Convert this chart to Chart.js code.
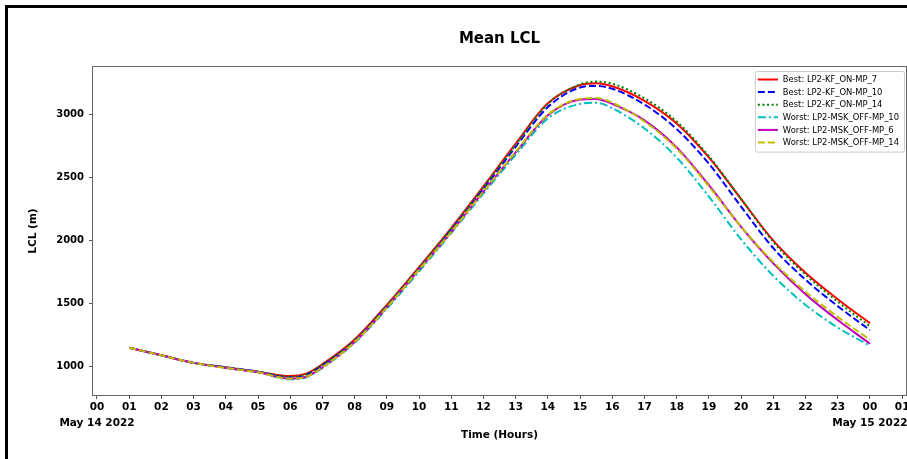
<!DOCTYPE html>
<html>
<head>
<meta charset="utf-8">
<title>Mean LCL</title>
<script src="https://cdn.jsdelivr.net/npm/chart.js@4.4.1/dist/chart.umd.min.js"></script>
<style>
	html, body { margin: 0; padding: 0; background: #fff; }
	canvas { display: block; }
</style>
</head>
<body>
<canvas id="chart-mean-lcl" width="907" height="459"></canvas>
<script>
// Hours since 00 on May 14 2022
const HOURS = [1, 2, 3, 4, 5, 6, 6.5, 7, 8, 9, 10, 11, 12, 13, 14, 15, 15.5, 16, 17, 18, 19, 20, 21, 22, 23, 24];

const SERIES_LABELS = [
	"Best: LP2-KF_ON-MP_7",
	"Best: LP2-KF_ON-MP_10",
	"Best: LP2-KF_ON-MP_14",
	"Worst: LP2-MSK_OFF-MP_10",
	"Worst: LP2-MSK_OFF-MP_6",
	"Worst: LP2-MSK_OFF-MP_14",
];

const BEST_KF_ON_MP_7 = [1150, 1090, 1030, 995, 960, 925, 945, 1020, 1215, 1490, 1790, 2100, 2430, 2770, 3090, 3235, 3250, 3225, 3110, 2930, 2660, 2330, 2000, 1745, 1535, 1345];
const BEST_KF_ON_MP_10 = [1150, 1090, 1030, 995, 960, 915, 935, 1010, 1205, 1480, 1775, 2085, 2410, 2745, 3060, 3215, 3228, 3205, 3080, 2885, 2610, 2270, 1940, 1690, 1480, 1290];
const BEST_KF_ON_MP_14 = [1150, 1090, 1030, 995, 960, 920, 940, 1015, 1210, 1485, 1785, 2095, 2425, 2760, 3085, 3240, 3262, 3245, 3130, 2945, 2670, 2330, 1990, 1730, 1515, 1320];
const WORST_MSK_OFF_MP_10 = [1150, 1090, 1030, 990, 955, 900, 915, 990, 1190, 1460, 1755, 2060, 2375, 2680, 2970, 3085, 3095, 3050, 2890, 2660, 2350, 2010, 1720, 1490, 1310, 1166];
const WORST_MSK_OFF_MP_6 = [1150, 1090, 1030, 990, 955, 905, 920, 995, 1195, 1470, 1770, 2070, 2390, 2700, 2995, 3120, 3125, 3085, 2955, 2740, 2440, 2110, 1820, 1575, 1370, 1182];
const WORST_MSK_OFF_MP_14 = [1150, 1090, 1030, 990, 955, 905, 920, 995, 1195, 1470, 1770, 2070, 2390, 2705, 3000, 3125, 3132, 3095, 2945, 2730, 2430, 2110, 1830, 1595, 1395, 1213];

const X_TICK_LABELS = ["00", "01", "02", "03", "04", "05", "06", "07", "08", "09", "10", "11", "12",
	"13", "14", "15", "16", "17", "18", "19", "20", "21", "22", "23", "00", "01"];
const DATE_LABELS = { 0: "May 14 2022", 24: "May 15 2022" };
const Y_TICKS = [1000, 1500, 2000, 2500, 3000];

const FONT = "'DejaVu Sans', sans-serif";

const toPoints = (values) => values.map((v, i) => ({ x: HOURS[i], y: v }));

const lineStyle = (color, dash, order) => ({
	borderColor: color,
	backgroundColor: color,
	borderWidth: 2,
	borderDash: dash,
	pointRadius: 0,
	fill: false,
	cubicInterpolationMode: "monotone",
	order: order,
});

const CHART_DATA = {
	datasets: [
		{ label: SERIES_LABELS[0], data: toPoints(BEST_KF_ON_MP_7), ...lineStyle("#ff0000", [], 5) },
		{ label: SERIES_LABELS[1], data: toPoints(BEST_KF_ON_MP_10), ...lineStyle("#0000ff", [7, 3], 4) },
		{ label: SERIES_LABELS[2], data: toPoints(BEST_KF_ON_MP_14), ...lineStyle("#008000", [2, 2.6], 3) },
		{ label: SERIES_LABELS[3], data: toPoints(WORST_MSK_OFF_MP_10), ...lineStyle("#00bfbf", [8, 3, 2, 3], 2) },
		{ label: SERIES_LABELS[4], data: toPoints(WORST_MSK_OFF_MP_6), ...lineStyle("#bf00bf", [], 1) },
		{ label: SERIES_LABELS[5], data: toPoints(WORST_MSK_OFF_MP_14), ...lineStyle("#bfbf00", [7, 3], 0) },
	],
};

// figure frame, axes spines and a matplotlib-like legend box
const framePlugin = {
	id: "frame",
	beforeDraw(chart) {
		const { ctx, width, height } = chart;
		ctx.save();
		ctx.fillStyle = "#fff";
		ctx.fillRect(0, 0, width, height);
		ctx.strokeStyle = "#000";
		ctx.lineWidth = 3;
		ctx.beginPath();
		ctx.moveTo(6.5, height);
		ctx.lineTo(6.5, 6.5);
		ctx.lineTo(width, 6.5);
		ctx.stroke();
		ctx.restore();
	},
	afterDatasetsDraw(chart) {
		const { ctx, chartArea: a } = chart;
		ctx.save();
		ctx.strokeStyle = "#666";
		ctx.lineWidth = 1;
		ctx.strokeRect(a.left - 0.5, a.top - 0.5, a.right - a.left + 1, a.bottom - a.top + 1);

		// legend
		const datasets = chart.data.datasets;
		ctx.font = "8.4px " + FONT;
		const textW = Math.max(...datasets.map((d) => ctx.measureText(d.label).width));
		const rowH = 12.6;
		const w = 28 + textW + 5;
		const h = datasets.length * rowH + 5;
		const left = a.right - 2 - w;
		const top = a.top + 4;
		ctx.fillStyle = "rgba(255,255,255,0.85)";
		ctx.strokeStyle = "#cccccc";
		ctx.beginPath();
		ctx.roundRect(left + 0.5, top + 0.5, w, h, 2);
		ctx.fill();
		ctx.stroke();
		ctx.textBaseline = "middle";
		ctx.textAlign = "left";
		datasets.forEach((d, i) => {
			const y = top + 8.5 + i * rowH;
			ctx.strokeStyle = d.borderColor;
			ctx.lineWidth = 2;
			ctx.setLineDash(d.borderDash);
			ctx.beginPath();
			ctx.moveTo(left + 3, y);
			ctx.lineTo(left + 23, y);
			ctx.stroke();
			ctx.setLineDash([]);
			ctx.fillStyle = "#000";
			ctx.fillText(d.label, left + 28, y + 0.5);
		});
		ctx.restore();
	},
};

const CHART_CONFIG = {
	type: "line",
	data: CHART_DATA,
	options: {
		responsive: false,
		animation: false,
		devicePixelRatio: 1,
		layout: {
			padding: { left: 0, right: 1, top: 0, bottom: 0 },
		},
		plugins: {
			legend: { display: false },
			tooltip: { enabled: false },
			title: {
				display: true,
				text: "Mean LCL",
				fullSize: false,
				color: "#000",
				font: { family: FONT, size: 15, weight: "bold" },
				padding: { top: 30, bottom: 19 },
			},
		},
		scales: {
			x: {
				type: "linear",
				min: -0.124,
				max: 25.12,
				afterBuildTicks: (scale) => {
					scale.ticks = X_TICK_LABELS.map((_, i) => ({ value: i }));
				},
				afterFit: (scale) => {
					scale.height = 64;
					scale.paddingLeft = 0;
					scale.paddingRight = 0;
				},
				border: { display: false },
				grid: {
					drawOnChartArea: false,
					drawTicks: true,
					tickLength: 4,
					color: "#555",
				},
				ticks: {
					autoSkip: false,
					maxRotation: 0,
					padding: 0,
					color: "#000",
					font: { family: FONT, size: 10.5, weight: "bold", lineHeight: 1.52 },
					callback: (value, index) => {
						const label = X_TICK_LABELS[index];
						return DATE_LABELS[value] ? [label, DATE_LABELS[value]] : label;
					},
				},
				title: {
					display: true,
					text: "Time (Hours)",
					color: "#000",
					font: { family: FONT, size: 10.5, weight: "bold" },
					padding: { top: 0, bottom: 17 },
				},
			},
			y: {
				min: 775,
				max: 3378,
				afterBuildTicks: (scale) => {
					scale.ticks = Y_TICKS.map((v) => ({ value: v }));
				},
				afterFit: (scale) => {
					scale.width = 93;
					scale.paddingTop = 0;
					scale.paddingBottom = 0;
				},
				border: { display: false },
				grid: {
					drawOnChartArea: false,
					drawTicks: true,
					tickLength: 4,
					color: "#555",
				},
				ticks: {
					padding: 5,
					color: "#000",
					font: { family: FONT, size: 10, weight: "bold" },
					callback: (value) => String(value),
				},
				title: {
					display: true,
					text: "LCL (m)",
					color: "#000",
					font: { family: FONT, size: 10.5, weight: "bold" },
					padding: { top: 27, bottom: 0 },
				},
			},
		},
	},
	plugins: [framePlugin],
};

const CHART_WRAPPER = document.getElementById("chart-mean-lcl");
if (CHART_WRAPPER) {
	new Chart(CHART_WRAPPER, CHART_CONFIG);
}
</script>
</body>
</html>
